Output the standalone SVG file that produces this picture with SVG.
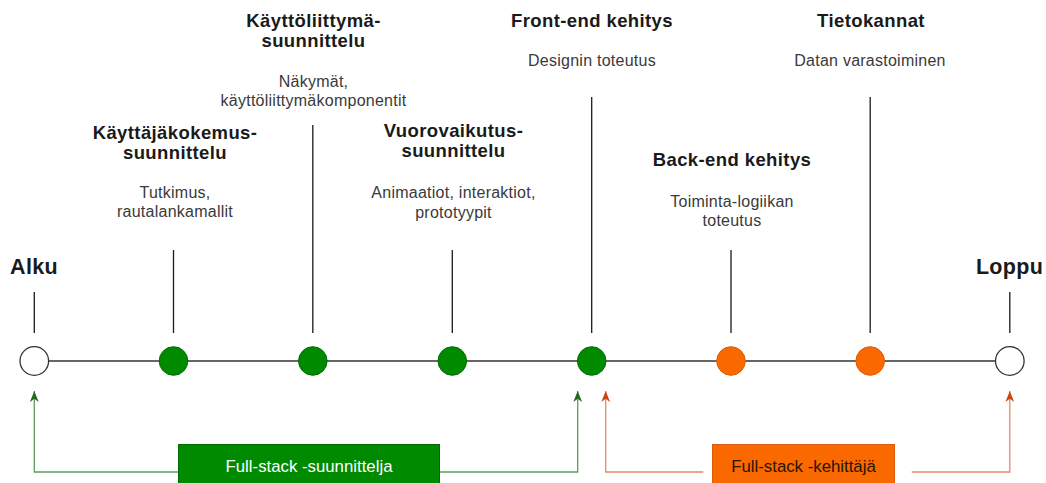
<svg xmlns="http://www.w3.org/2000/svg" width="1046" height="483" viewBox="0 0 1046 483">
<defs>
<style>
.t{font-family:"Liberation Sans",Arial,sans-serif;font-weight:bold;font-size:18.5px;letter-spacing:0.4px;fill:#1a1a1a;text-anchor:middle}
.big{font-family:"Liberation Sans",Arial,sans-serif;font-weight:bold;font-size:21.5px;letter-spacing:0.3px;fill:#1a1a1a;text-anchor:middle}
.d{font-family:"Liberation Sans",Arial,sans-serif;font-size:16px;letter-spacing:0.25px;fill:#3a3a3a;text-anchor:middle}
.bx{font-family:"Liberation Sans",Arial,sans-serif;font-size:16.8px;text-anchor:middle}
.tick{stroke:#1a1a1a;stroke-width:1.3;fill:none}
.g{fill:#008a00;stroke:#006b00;stroke-width:1}
.o{fill:#fa6800;stroke:#e05a00;stroke-width:1}
.w{fill:#ffffff;stroke:#333333;stroke-width:1.3}
.cg{stroke:#5c9b5c;stroke-width:1.3;fill:none}
.co{stroke:#e8876a;stroke-width:1.3;fill:none}
</style>
<marker id="ag" viewBox="0 0 10 8" refX="10" refY="4" markerWidth="11" markerHeight="9" markerUnits="userSpaceOnUse" orient="auto">
<path d="M0,0 L10,4 L0,8 L3,4 Z" fill="#1f6b1f"/>
</marker>
<marker id="ao" viewBox="0 0 10 8" refX="10" refY="4" markerWidth="11" markerHeight="9" markerUnits="userSpaceOnUse" orient="auto">
<path d="M0,0 L10,4 L0,8 L3,4 Z" fill="#cc4411"/>
</marker>
</defs>
<rect x="0" y="0" width="1046" height="483" fill="#ffffff"/>

<g id="timeline">
<line x1="48" y1="361" x2="995" y2="361" stroke="#333333" stroke-width="1.3"/>
</g>

<g id="connectors">
<path class="cg" d="M178.5,472 H34.3 V391" marker-end="url(#ag)"/>
<path class="cg" d="M439.3,472 H577.7 V391" marker-end="url(#ag)"/>
<path class="co" d="M703.3,472 H605.7 V391" marker-end="url(#ao)"/>
<path class="co" d="M911.7,472 H1009.8 V391" marker-end="url(#ao)"/>
</g>

<g id="alku">
<text class="big" x="34" y="274">Alku</text>
<line class="tick" x1="34.3" y1="292" x2="34.3" y2="333"/>
<circle class="w" cx="34.3" cy="361" r="14.3"/>
</g>

<g id="kayttajakokemus">
<text class="t" x="175" y="139">Käyttäjäkokemus-</text>
<text class="t" x="175" y="159">suunnittelu</text>
<text class="d" x="175" y="198">Tutkimus,</text>
<text class="d" x="175" y="217">rautalankamallit</text>
<line class="tick" x1="173.5" y1="250" x2="173.5" y2="333"/>
<circle class="g" cx="173.5" cy="361" r="14.3"/>
</g>

<g id="kayttoliittyma">
<text class="t" x="313.5" y="27">Käyttöliittymä-</text>
<text class="t" x="313.5" y="47">suunnittelu</text>
<text class="d" x="313.5" y="87">Näkymät,</text>
<text class="d" x="313.5" y="106">käyttöliittymäkomponentit</text>
<line class="tick" x1="312.8" y1="125" x2="312.8" y2="333"/>
<circle class="g" cx="312.8" cy="361" r="14.3"/>
</g>

<g id="vuorovaikutus">
<text class="t" x="453.5" y="137">Vuorovaikutus-</text>
<text class="t" x="453.5" y="157">suunnittelu</text>
<text class="d" x="453.5" y="198">Animaatiot, interaktiot,</text>
<text class="d" x="453.5" y="218">prototyypit</text>
<line class="tick" x1="452.3" y1="250" x2="452.3" y2="333"/>
<circle class="g" cx="452.3" cy="361" r="14.3"/>
</g>

<g id="frontend">
<text class="t" x="592" y="27">Front-end kehitys</text>
<text class="d" x="592" y="66">Designin toteutus</text>
<line class="tick" x1="591.7" y1="97" x2="591.7" y2="333"/>
<circle class="g" cx="591.7" cy="361" r="14.3"/>
</g>

<g id="backend">
<text class="t" x="732" y="166">Back-end kehitys</text>
<text class="d" x="732" y="207">Toiminta-logiikan</text>
<text class="d" x="732" y="226">toteutus</text>
<line class="tick" x1="731" y1="250" x2="731" y2="333"/>
<circle class="o" cx="731" cy="361" r="14.3"/>
</g>

<g id="tietokannat">
<text class="t" x="871" y="27">Tietokannat</text>
<text class="d" x="870" y="66">Datan varastoiminen</text>
<line class="tick" x1="870.2" y1="97" x2="870.2" y2="333"/>
<circle class="o" cx="870.2" cy="361" r="14.3"/>
</g>

<g id="loppu">
<text class="big" x="1009.5" y="274">Loppu</text>
<line class="tick" x1="1009.8" y1="292" x2="1009.8" y2="333"/>
<circle class="w" cx="1009.8" cy="361" r="14.3"/>
</g>

<g id="suunnittelija">
<rect x="178.5" y="444.5" width="261" height="50" fill="#008a00" stroke="#006b00" stroke-width="1"/>
<text class="bx" x="309" y="472" fill="#ffffff">Full-stack -suunnittelja</text>
</g>

<g id="kehittaja">
<rect x="712.5" y="444.5" width="182" height="50" fill="#fa6800" stroke="#d95a10" stroke-width="1"/>
<text class="bx" x="803.5" y="472" fill="#2a1400">Full-stack -kehittäjä</text>
</g>
</svg>
